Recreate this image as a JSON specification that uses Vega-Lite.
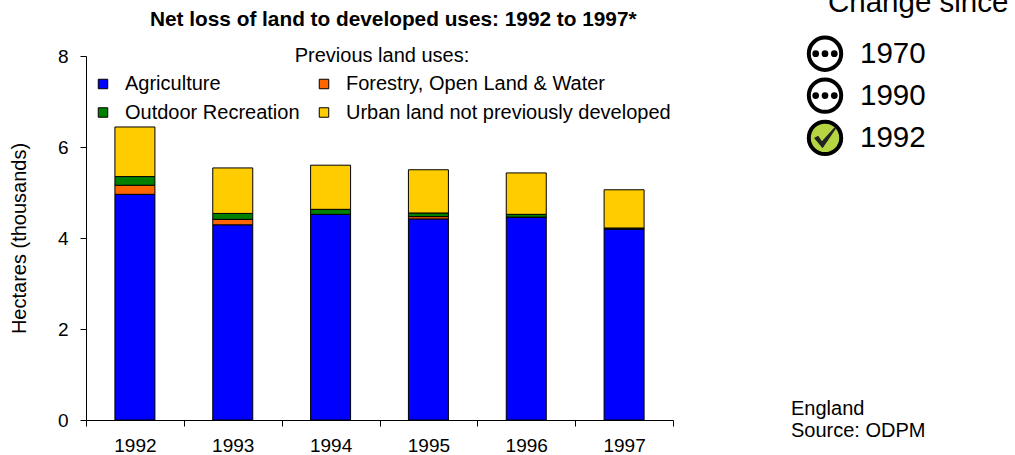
{"$schema":"https://vega.github.io/schema/vega-lite/v6.json","autosize":"none","width":587,"height":364,"padding":{"left":86,"top":56,"right":342,"bottom":35},"background":"white","config":{"font":"Liberation Sans","view":{"stroke":null}},
"title":{"text":"Net loss of land to developed uses: 1992 to 1997*","fontSize":20.8,"fontWeight":"bold","color":"black","anchor":"start","frame":"group","offset":-43,"dx":64},
"datasets":{"bars":[
{"year":"1992","use":"Agriculture","k":1,"v":4.96},{"year":"1992","use":"Forestry, Open Land & Water","k":2,"v":0.2},{"year":"1992","use":"Outdoor Recreation","k":3,"v":0.19},{"year":"1992","use":"Urban land not previously developed","k":4,"v":1.09},
{"year":"1993","use":"Agriculture","k":1,"v":4.29},{"year":"1993","use":"Forestry, Open Land & Water","k":2,"v":0.12},{"year":"1993","use":"Outdoor Recreation","k":3,"v":0.13},{"year":"1993","use":"Urban land not previously developed","k":4,"v":1.0},
{"year":"1994","use":"Agriculture","k":1,"v":4.52},{"year":"1994","use":"Forestry, Open Land & Water","k":2,"v":0.0},{"year":"1994","use":"Outdoor Recreation","k":3,"v":0.11},{"year":"1994","use":"Urban land not previously developed","k":4,"v":0.97},
{"year":"1995","use":"Agriculture","k":1,"v":4.42},{"year":"1995","use":"Forestry, Open Land & Water","k":2,"v":0.05},{"year":"1995","use":"Outdoor Recreation","k":3,"v":0.08},{"year":"1995","use":"Urban land not previously developed","k":4,"v":0.95},
{"year":"1996","use":"Agriculture","k":1,"v":4.46},{"year":"1996","use":"Forestry, Open Land & Water","k":2,"v":0.0},{"year":"1996","use":"Outdoor Recreation","k":3,"v":0.06},{"year":"1996","use":"Urban land not previously developed","k":4,"v":0.91},
{"year":"1997","use":"Agriculture","k":1,"v":4.2},{"year":"1997","use":"Forestry, Open Land & Water","k":2,"v":0.0},{"year":"1997","use":"Outdoor Recreation","k":3,"v":0.02},{"year":"1997","use":"Urban land not previously developed","k":4,"v":0.84}],
"icons":[{"x":739,"y":8.05,"t":"1970","state":"none"},{"x":739,"y":7.13,"t":"1990","state":"none"},{"x":739,"y":6.2,"t":"1992","state":"ok"}],
"notes":[{"x":742,"y":9.17,"t":"Change since","s":29.5},{"x":705,"y":0.25,"t":"England","s":20},{"x":705,"y":-0.24,"t":"Source: ODPM","s":20}]},
"layer":[
{"data":{"name":"bars"},"mark":{"type":"bar","stroke":"black","strokeWidth":1,"width":40},
"encoding":{"x":{"field":"year","type":"nominal","title":null,"scale":{"paddingInner":0,"paddingOuter":0},"axis":{"labelAngle":0,"labelFontSize":19,"labelColor":"black","labelPadding":10,"domainColor":"black","tickColor":"black","tickSize":6,"tickBand":"extent"}},
"y":{"field":"v","type":"quantitative","aggregate":"sum","stack":"zero","title":"Hectares (thousands)","scale":{"domain":[0,8]},"axis":{"values":[0,2,4,6,8],"grid":false,"labelFontSize":19,"labelColor":"black","labelPadding":12,"titleFontSize":20,"titleFontWeight":"normal","titleColor":"black","titlePadding":28,"domainColor":"black","tickColor":"black","tickSize":6}},
"color":{"field":"use","type":"nominal","scale":{"domain":["Agriculture","Forestry, Open Land & Water","Outdoor Recreation","Urban land not previously developed"],"range":["#0000ff","#ff6600","#008000","#ffcc00"]},
"legend":{"orient":"none","legendX":7,"legendY":-10,"direction":"horizontal","columns":2,"title":"Previous land uses:","titleFontSize":20,"titleFontWeight":"normal","titleColor":"black","titleAnchor":"middle","titlePadding":8,"labelFontSize":20,"labelOffset":12,"labelColor":"black","labelLimit":400,"symbolType":"square","symbolSize":90,"symbolStrokeColor":"black","symbolStrokeWidth":1,"rowPadding":8.5,"columnPadding":14}},
"order":{"field":"k","type":"quantitative"}}},
{"data":{"name":"icons"},"mark":{"type":"point","shape":"circle","filled":true,"size":1050,"stroke":"black","strokeWidth":4,"opacity":1},"encoding":{"x":{"field":"x","type":"quantitative","scale":{"domain":[0,587]},"axis":null},"y":{"field":"y","type":"quantitative"},"color":{"field":"state","type":"nominal","scale":{"domain":["none","ok"],"range":["white","#b5d642"]},"legend":null}}},
{"data":{"name":"icons"},"transform":[{"filter":"datum.state=='none'"}],"mark":{"type":"point","shape":"circle","filled":true,"size":45,"color":"black","opacity":1,"xOffset":-9.3},"encoding":{"x":{"field":"x","type":"quantitative","scale":{"domain":[0,587]},"axis":null},"y":{"field":"y","type":"quantitative"}}},
{"data":{"name":"icons"},"transform":[{"filter":"datum.state=='none'"}],"mark":{"type":"point","shape":"circle","filled":true,"size":45,"color":"black","opacity":1},"encoding":{"x":{"field":"x","type":"quantitative","scale":{"domain":[0,587]},"axis":null},"y":{"field":"y","type":"quantitative"}}},
{"data":{"name":"icons"},"transform":[{"filter":"datum.state=='none'"}],"mark":{"type":"point","shape":"circle","filled":true,"size":45,"color":"black","opacity":1,"xOffset":9.3},"encoding":{"x":{"field":"x","type":"quantitative","scale":{"domain":[0,587]},"axis":null},"y":{"field":"y","type":"quantitative"}}},
{"data":{"name":"icons"},"transform":[{"filter":"datum.state=='ok'"}],"mark":{"type":"point","shape":"M-1,0 L-0.62,-0.2 L-0.28,0.3 L0.85,-0.95 L1,-0.85 L-0.22,0.95 Z","filled":true,"size":480,"color":"#222222","opacity":1},"encoding":{"x":{"field":"x","type":"quantitative","scale":{"domain":[0,587]},"axis":null},"y":{"field":"y","type":"quantitative"}}},
{"data":{"name":"icons"},"mark":{"type":"text","align":"left","baseline":"middle","dx":35,"fontSize":29.5,"color":"black"},"encoding":{"x":{"field":"x","type":"quantitative","scale":{"domain":[0,587]},"axis":null},"y":{"field":"y","type":"quantitative"},"text":{"field":"t"}}},
{"data":{"name":"notes"},"mark":{"type":"text","align":"left","baseline":"middle","color":"black"},"encoding":{"x":{"field":"x","type":"quantitative","scale":{"domain":[0,587]},"axis":null},"y":{"field":"y","type":"quantitative"},"text":{"field":"t"},"size":{"field":"s","type":"quantitative","scale":null,"legend":null}}}
],"resolve":{"scale":{"x":"independent","color":"independent"}}}
